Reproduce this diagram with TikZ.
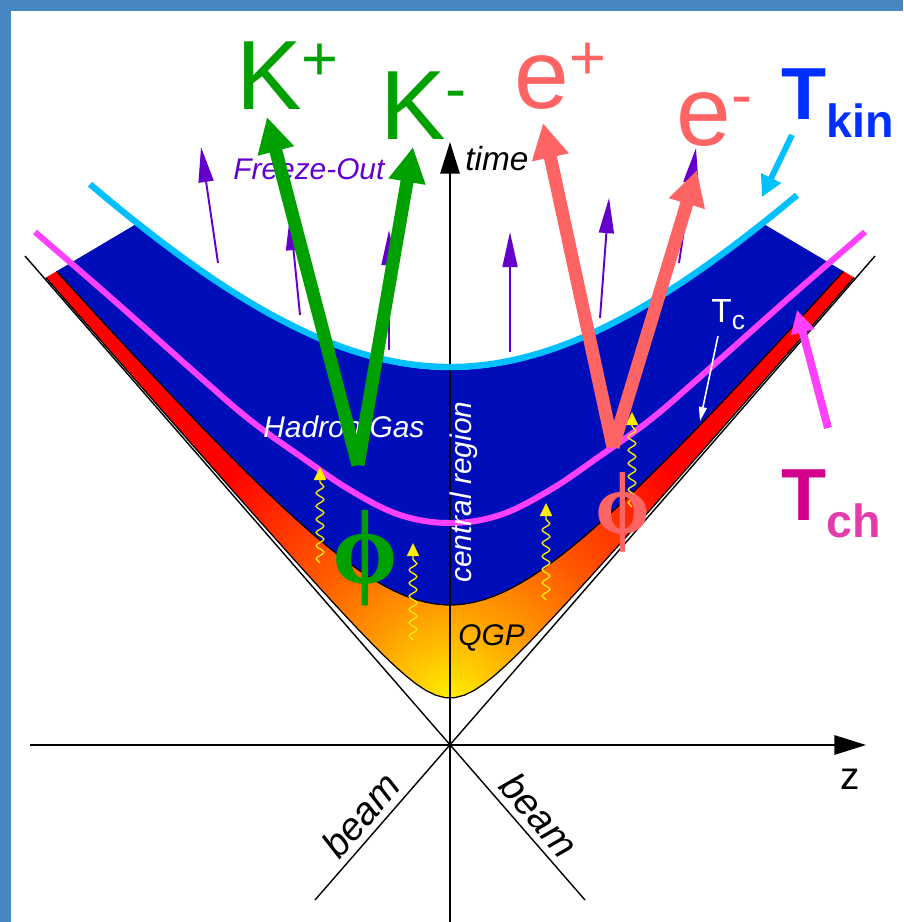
\documentclass[tikz,border=0pt]{standalone}
\usepackage{fontspec}
\setmainfont{Liberation Sans}
\newfontfamily\greekfont{Liberation Serif}
\usetikzlibrary{arrows.meta,decorations.pathmorphing}

\definecolor{slideframe}{RGB}{70,135,193}
\definecolor{gasblue}{RGB}{0,14,186}
\definecolor{kincyan}{RGB}{0,192,255}
\definecolor{chempink}{RGB}{255,64,255}
\definecolor{kaongreen}{RGB}{0,160,0}
\definecolor{leptonred}{RGB}{255,100,100}
\definecolor{flowviolet}{RGB}{100,0,204}
\definecolor{tkinblue}{RGB}{0,48,255}
\definecolor{tchdark}{RGB}{210,0,140}
\definecolor{tchlight}{RGB}{226,60,172}
\definecolor{photonyellow}{RGB}{255,236,0}
\definecolor{qgpcore}{RGB}{255,240,0}
\definecolor{qgpgold}{RGB}{255,212,0}
\definecolor{qgpamber}{RGB}{255,150,0}
\definecolor{qgporange}{RGB}{255,90,0}
\definecolor{qgpember}{RGB}{255,45,0}

\pgfdeclareradialshading{qgpglow}{\pgfpoint{0bp}{0bp}}{%
  color(0bp)=(qgpcore); color(2.1bp)=(qgpgold); color(6.9bp)=(qgpamber);
  color(12.2bp)=(qgporange); color(17.4bp)=(qgpember); color(22bp)=(red); color(50bp)=(red)}

\newcommand{\upsc}[1]{\raisebox{0.3em}{\fontsize{36}{36}\selectfont #1}}

\tikzset{
  cone/.style={black, line width=0.8pt},
  axis/.style={black, line width=1pt, -{Triangle[length=18pt,width=11pt]}},
  rim/.style={black, line width=0.7pt},
  kaon/.style={kaongreen, line width=7.4pt, -{Triangle[length=20pt,width=20pt]}},
  lepton/.style={leptonred, line width=7.4pt, -{Triangle[length=20pt,width=20pt]}},
  flow/.style={flowviolet, line width=1.1pt, -{Triangle[length=20pt,width=8.5pt]}},
  photon/.style={photonyellow, line width=0.75pt, decorate,
    decoration={snake, amplitude=2.2pt, segment length=7.5pt, post length=7pt},
    -{Triangle[length=7.5pt,width=7pt]}},
  biglabel/.style={inner sep=0pt, anchor=base west, font=\fontsize{56}{56}\selectfont},
  itlabel/.style={inner sep=0pt, font=\fontsize{17}{17}\selectfont\itshape},
  beamlabel/.style={inner sep=0pt, anchor=base, font=\fontsize{22}{22}\selectfont\itshape},
}

\begin{document}
\begin{tikzpicture}[x=0.02cm,y=-0.02cm]
\useasboundingbox (0,0) rectangle (903,922);
\fill[slideframe] (0,0) rectangle (903,922);
\fill[white] (11,11) rectangle (903,922);

\begin{scope}
\clip (30,287) -- (170,204) -- (450,0) -- (730,204) -- (870,287) -- (870,922) -- (30,922) -- cycle;
\fill[gasblue] plot[domain=-430:430,samples=90] ({450+\x},{745-100*sqrt(14.06+(0.0115*\x)^2)})
  -- plot[domain=430:-430,samples=90] ({450+\x},{745-100*sqrt(1.96+(0.0115*\x)^2)}) -- cycle;
\begin{scope}
\clip plot[domain=-430:430,samples=90] ({450+\x},{745-100*sqrt(1.96+(0.0115*\x)^2)})
  -- plot[domain=430:-430,samples=90] ({450+\x},{745-100*sqrt(0.2209+(0.0115*\x)^2)}) -- cycle;
\fill[red] (0,0) rectangle (903,922);
\shade[shading=qgpglow] (450,700) circle (360);
\end{scope}
\draw[rim] plot[domain=-430:430,samples=90] ({450+\x},{745-100*sqrt(1.96+(0.0115*\x)^2)});
\draw[rim] plot[domain=-430:430,samples=90] ({450+\x},{745-100*sqrt(0.2209+(0.0115*\x)^2)});
\end{scope}

\coordinate (coneUL) at (25,256);
\coordinate (coneUR) at (875,256);
\coordinate (coneLL) at (315,900);
\coordinate (coneLR) at (585,900);
\draw[cone] (coneUL) -- (coneLR);
\draw[cone] (coneUR) -- (coneLL);

\coordinate (zstart) at (30,745);
\coordinate (zend) at (866,745);
\coordinate (tstart) at (450,922);
\coordinate (tend) at (450,142);
\draw[axis, line width=1.1pt] (zstart) -- (zend);
\draw[axis] (tstart) -- (tend);

\draw[flow] (218,263) -- (201,147);
\draw[flow] (300,315) -- (290,215);
\draw[flow] (389,350) -- (389,230);
\draw[flow] (510,352) -- (510,232);
\draw[flow] (600,318) -- (609,198);
\draw[flow] (679,263) -- (696,148);
\node[itlabel, anchor=base west, text=flowviolet] (freeze) at (233,180) {Freeze-Out};

\draw[kincyan, line width=3.6pt] plot[domain=-360:347,samples=90] ({450+\x},{745-100*sqrt(14.29+(0.0115*\x)^2)});
\draw[chempink, line width=3.4pt] plot[smooth,tension=0.6] coordinates {(35,232) (110,297) (200,377) (250,420) (300,456) (350,490) (400,515) (450,523) (500,515) (550,490) (600,456) (650,420) (700,377) (790,297) (865,232)};

\draw[photon] (320,563) -- (320,467);
\draw[photon] (413,640) -- (413,543);
\draw[photon] (546,600) -- (546,503);
\draw[photon] (632,507) -- (632,412);

\node[itlabel, anchor=base west, text=white] (hgas) at (263,437) {Hadron Gas};
\node[itlabel, anchor=base west, rotate=90, text=white] (central) at (471,583) {central region};
\node[itlabel, anchor=base west] (qgp) at (458,645) {QGP};

\node[inner sep=0pt, anchor=base west, text=white, font=\fontsize{19}{19}\selectfont] (tc) at (711,322) {T\raisebox{-4pt}{\fontsize{15}{15}\selectfont c}};
\coordinate (tcfoot) at (718,336);
\coordinate (tcline) at (700,421);
\draw[white, line width=0.9pt, -{Triangle[length=8pt,width=4.5pt]}] (tcfoot) -- (tcline);

\coordinate (kvertex) at (358,465);
\coordinate (kplustip) at (267,117);
\coordinate (kminustip) at (413,147);
\draw[kaon] (kvertex) -- (kplustip);
\draw[kaon] (kvertex) -- (kminustip);

\coordinate (evertex) at (613,447);
\coordinate (eplustip) at (543,123);
\coordinate (eminustip) at (697,170);
\draw[lepton] (evertex) -- (eplustip);
\draw[lepton] (evertex) -- (eminustip);

\node[inner sep=0pt, text=kaongreen, font=\greekfont\bfseries\fontsize{60}{60}\selectfont] (phigreen) at (365,558) {ϕ};
\node[inner sep=0pt, text=leptonred, font=\greekfont\bfseries\fontsize{50}{50}\selectfont] (phired) at (623,512) {ϕ};

\node[biglabel, text=kaongreen] (kplus) at (236,110) {K\upsc{+}};
\node[biglabel, text=kaongreen] (kminus) at (380,140) {K\upsc{-}};
\node[biglabel, text=leptonred] (eplus) at (514,109) {e\upsc{+}};
\node[biglabel, text=leptonred] (eminus) at (676,146) {e\upsc{-}};

\node[inner sep=0pt, anchor=base west, text=tkinblue, font=\bfseries\fontsize{42}{42}\selectfont] (tkin) at (781,120) {T\raisebox{-10pt}{\fontsize{26.5}{26.5}\selectfont kin}};
\coordinate (tkinfoot) at (792,135);
\coordinate (tkintip) at (762,197);
\draw[kincyan, line width=3.4pt, -{Triangle[length=12pt,width=12pt]}] (tkinfoot) -- (tkintip);

\node[inner sep=0pt, anchor=base west, text=tchdark, font=\bfseries\fontsize{42}{42}\selectfont] (tch) at (781,520) {T\raisebox{-10pt}{\fontsize{26.5}{26.5}\selectfont\color{tchlight}ch}};
\coordinate (tchfoot) at (828,428);
\coordinate (tchtip) at (797,310);
\draw[chempink, line width=4.5pt, -{Triangle[length=13pt,width=13pt]}] (tchfoot) -- (tchtip);

\node[inner sep=0pt, anchor=base west, font=\fontsize{19}{19}\selectfont\itshape] (timelabel) at (465,171) {time};
\node[inner sep=0pt, font=\fontsize{22}{22}\selectfont] (zlabel) at (850,779) {z};
\node[beamlabel, rotate=49] (beamleft) at (371,824) {beam};
\node[beamlabel, rotate=-49] (beamright) at (529,824) {beam};
\end{tikzpicture}
\end{document}
